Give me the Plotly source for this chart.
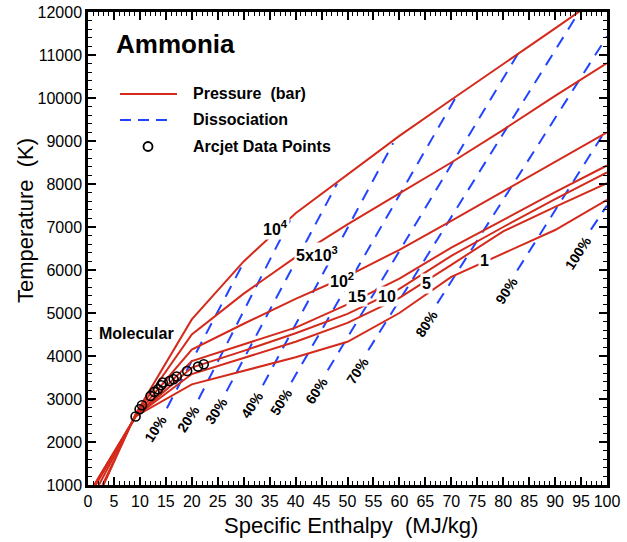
import plotly.graph_objects as go

RED = "#d42a1c"
BLUE = "#2244ff"
FONT = "Arial, Liberation Sans, sans-serif"

# ---------------- data ----------------
pressure_labels = ["1", "5", "10", "15", "10<sup>2</sup>", "5x10<sup>3</sup>", "10<sup>4</sup>"]

h_p1 = [1.2, 9.2, 20, 30, 40, 50, 60, 70, 80, 90, 100]
t_p1 = [1000, 2600, 3340, 3650, 3970, 4330, 5000, 5840, 6380, 6930, 7630]

h_p5 = [1.2, 9.2, 20, 30, 40, 50, 60, 70, 80, 90, 100]
t_p5 = [1000, 2600, 3580, 3950, 4330, 4770, 5350, 6120, 6900, 7470, 8020]

h_p10 = [1.4, 9.2, 20, 30, 40, 50, 60, 70, 80, 90, 100]
t_p10 = [1000, 2600, 3730, 4120, 4530, 4980, 5560, 6330, 7000, 7650, 8270]

h_p15 = [1.5, 9.2, 20, 30, 40, 50, 60, 70, 80, 90, 100]
t_p15 = [1000, 2600, 3880, 4270, 4660, 5200, 5800, 6520, 7170, 7810, 8430]

h_p100 = [2.1, 9.2, 20, 30, 40, 50, 60, 70, 80, 90, 100]
t_p100 = [1000, 2620, 4150, 4750, 5330, 5860, 6470, 7140, 7830, 8510, 9200]

h_p5000 = [2.8, 9.2, 20, 30, 40, 50, 60, 70, 80, 90, 100]
t_p5000 = [1000, 2640, 4500, 5450, 6300, 7060, 7780, 8500, 9260, 10050, 10810]

h_p10000 = [3.0, 9.2, 20, 30, 40, 50, 60, 70, 80, 90, 95]
t_p10000 = [1000, 2660, 4850, 6200, 7320, 8230, 9120, 9960, 10780, 11620, 12040]

pressure_h = [h_p1, h_p5, h_p10, h_p15, h_p100, h_p5000, h_p10000]
pressure_t = [t_p1, t_p5, t_p10, t_p15, t_p100, t_p5000, t_p10000]

# label positions of pressure curves (enthalpy, temperature)
plabel_h = [76.3, 65.3, 57.6, 51.8, 48.9, 44.1, 36.2]
plabel_t = [6210, 5675, 5373, 5373, 5768, 6373, 6978]

# dissociation lines
diss_labels = ["10%", "20%", "30%", "40%", "50%", "60%", "70%", "80%", "90%", "100%"]
diss_h_start = [15.2, 21.3, 26.7, 33.7, 39.2, 46.2, 54.0, 67.3, 82.7, 96.9]
diss_t_start = [2787, 2995, 3181, 3320, 3390, 3668, 4132, 5223, 5988, 6940]
diss_h_end = [30.1, 39.5, 48.0, 58.8, 70.8, 83.2, 94.6, 100, 100, 100]
diss_t_end = [6200, 7290, 8010, 8950, 10000, 11100, 12000, 11430, 9300, 7500]
dlabel_h = [13.1, 19.3, 24.7, 31.6, 37.2, 44.1, 52.0, 65.3, 80.7, 94.4]
dlabel_t = [2326, 2535, 2721, 2861, 2931, 3210, 3675, 4768, 5536, 6396]

# arcjet data points
arc_h = [9.17, 9.94, 10.4, 12.05, 12.8, 13.5, 14.1, 14.4, 15.7, 16.5, 17.1, 19.1, 21.2, 22.3]
arc_t = [2594, 2763, 2856, 3072, 3165, 3227, 3320, 3382, 3420, 3459, 3522, 3652, 3754, 3807]

x_ticks = list(range(0, 101, 5))
y_ticks = list(range(1000, 12001, 1000))

# ---------------- figure ----------------
fig = go.Figure()

for i in range(len(diss_labels)):
    fig.add_trace(go.Scatter(
        x=[diss_h_start[i], diss_h_end[i]], y=[diss_t_start[i], diss_t_end[i]],
        mode="lines", line=dict(color=BLUE, width=2, dash="12px,9px"),
        showlegend=False, hoverinfo="skip"))

for h, t in zip(pressure_h, pressure_t):
    fig.add_trace(go.Scatter(x=h, y=t, mode="lines",
                             line=dict(color=RED, width=2),
                             showlegend=False, hoverinfo="skip"))

fig.add_trace(go.Scatter(x=arc_h, y=arc_t, mode="markers",
                         marker=dict(symbol="circle-open", size=9,
                                     color="black", line=dict(width=1.6, color="black")),
                         showlegend=False, hoverinfo="skip"))

annotations = []
for lab, x, y in zip(pressure_labels, plabel_h, plabel_t):
    annotations.append(dict(x=x, y=y, xref="x", yref="y", text="<b>%s</b>" % lab,
                            xanchor="center", yanchor="middle",
                            showarrow=False, bgcolor="white", borderpad=1,
                            font=dict(family=FONT, size=16, color="black")))
for lab, x, y in zip(diss_labels, dlabel_h, dlabel_t):
    annotations.append(dict(x=x, y=y, xref="x", yref="y", text="<b>%s</b>" % lab,
                            xanchor="center", yanchor="middle",
                            showarrow=False, textangle=-57,
                            font=dict(family=FONT, size=14, color="black")))

annotations.append(dict(x=9.4, y=4512, xref="x", yref="y", text="<b>Molecular</b>",
                        xanchor="center", yanchor="middle",
                        showarrow=False, font=dict(family=FONT, size=16, color="black")))


def px2paper(px, py):
    return (px - 88) / 519.0, (485 - py) / 473.0


ax, ay = px2paper(114, 44)
annotations.append(dict(x=ax, y=ay, xref="paper", yref="paper", xanchor="left",
                        yanchor="middle", text="<b>Ammonia</b>", showarrow=False,
                        font=dict(family=FONT, size=26, color="black")))
legend_items = ["Pressure\u00a0 (bar)", "Dissociation", "Arcjet Data Points"]
legend_y = [94, 119, 146]
for txt, ly in zip(legend_items, legend_y):
    lx, lyp = px2paper(191, ly)
    annotations.append(dict(x=lx, y=lyp, xref="paper", yref="paper", xanchor="left",
                            yanchor="middle", text="<b>%s</b>" % txt, showarrow=False,
                            font=dict(family=FONT, size=16, color="black")))

shapes = []
x0, y0 = px2paper(120, 94)
x1, _ = px2paper(177, 94)
shapes.append(dict(type="line", xref="paper", yref="paper", x0=x0, x1=x1, y0=y0, y1=y0,
                   line=dict(color=RED, width=2)))
x0, y0 = px2paper(120, 120)
x1, _ = px2paper(167, 120)
shapes.append(dict(type="line", xref="paper", yref="paper", x0=x0, x1=x1, y0=y0, y1=y0,
                   line=dict(color=BLUE, width=2, dash="11px,7px")))
cx0, cy0 = px2paper(143.5, 151)
cx1, cy1 = px2paper(152.5, 142)
shapes.append(dict(type="circle", xref="paper", yref="paper", x0=cx0, x1=cx1, y0=cy0, y1=cy1,
                   line=dict(color="black", width=1.8)))

# axis titles
tx, ty = px2paper(25, 221)
annotations.append(dict(x=tx, y=ty, xref="paper", yref="paper", text="Temperature\u00a0 (K)",
                        xanchor="center", yanchor="middle",
                        textangle=-90, showarrow=False,
                        font=dict(family=FONT, size=22, color="black")))
tx, ty = px2paper(351, 525)
annotations.append(dict(x=tx, y=ty, xref="paper", yref="paper",
                        xanchor="center", yanchor="middle",
                        text="Specific Enthalpy\u00a0 (MJ/kg)", showarrow=False,
                        font=dict(family=FONT, size=22, color="black")))

axis_common = dict(showgrid=False, zeroline=False, showline=True, linecolor="black",
                   linewidth=2.5, mirror="allticks", ticks="inside", ticklen=8,
                   tickwidth=2, tickcolor="black", automargin=False,
                   tickfont=dict(family=FONT, size=16, color="black"))

fig.update_layout(
    width=627, height=542,
    margin=dict(l=88, r=20, t=12, b=57),
    paper_bgcolor="white", plot_bgcolor="white",
    showlegend=False,
    xaxis=dict(range=[0, 100], tickvals=x_ticks, ticktext=[str(v) for v in x_ticks],
               minor=dict(dtick=1, tick0=0, ticks="inside", ticklen=4, tickwidth=1,
                          tickcolor="black", showgrid=False),
               **axis_common),
    yaxis=dict(range=[1000, 12000], tickvals=y_ticks, ticktext=[str(v) for v in y_ticks],
               minor=dict(dtick=200, tick0=0, ticks="inside", ticklen=4, tickwidth=1,
                          tickcolor="black", showgrid=False),
               **axis_common),
    annotations=annotations,
    shapes=shapes,
)

fig.write_html("out.html")
